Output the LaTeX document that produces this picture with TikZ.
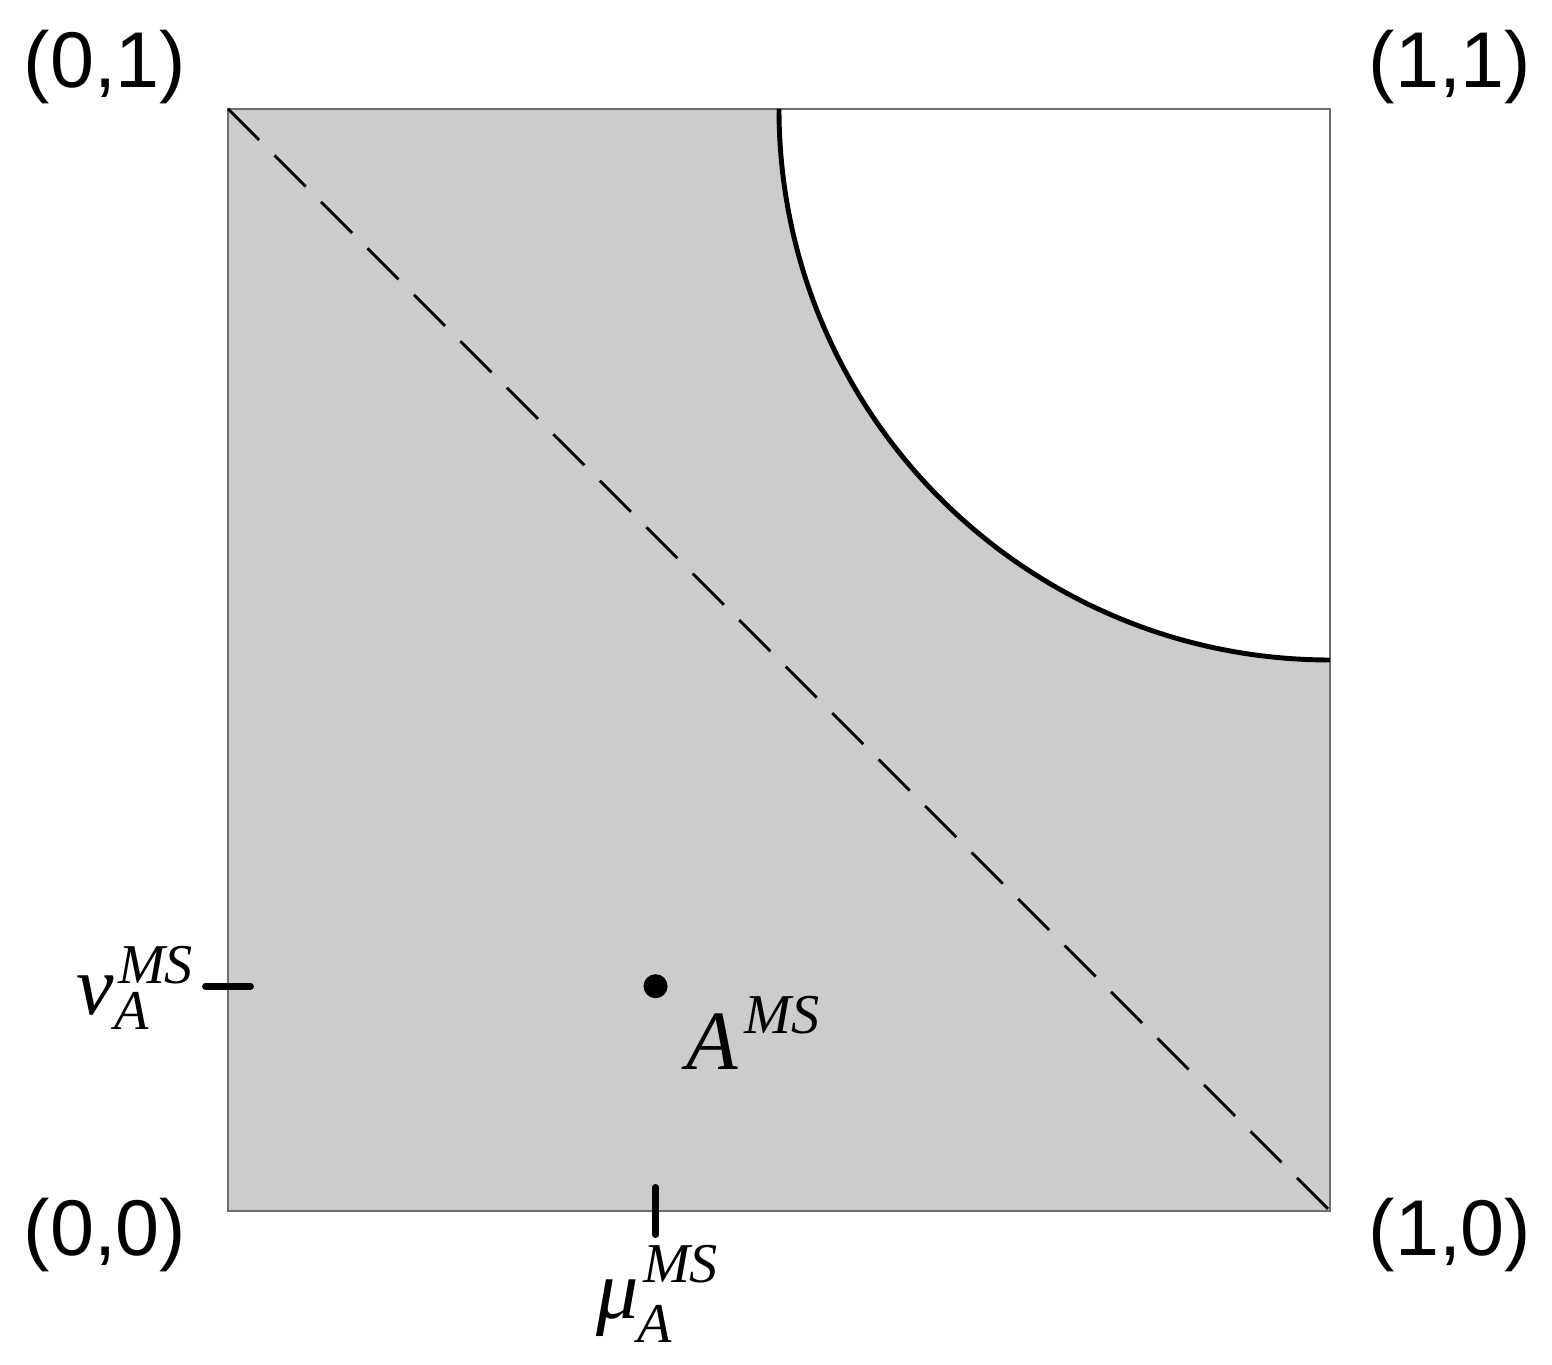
\documentclass[tikz,border=0pt]{standalone}
\usepackage{fontspec}
\setmainfont{Liberation Serif}
\newfontfamily\arialfont{Liberation Sans}
\definecolor{regiongray}{HTML}{CCCCCC}
\definecolor{framegray}{HTML}{6E6E6E}
\tikzset{
  corner/.style={font=\arialfont\fontsize{22.5}{22.5}\selectfont, inner sep=0pt},
  mathlab/.style={inner sep=0pt, anchor=base west},
  framebox/.style={draw=framegray, line width=0.6pt},
  boundary/.style={draw=black, line width=1.4pt},
  diag/.style={draw=black, line width=0.8pt, dash pattern=on 12.5pt off 6.2pt},
  tickmark/.style={draw=black, line width=1.9pt, line cap=round},
}
\newcommand{\bigit}{\itshape\fontsize{24}{24}\selectfont}
\newcommand{\smallit}[1]{{\itshape\fontsize{16}{16}\selectfont #1}}
\begin{document}
\begin{tikzpicture}
\useasboundingbox (0,0) rectangle (15.52,13.65);
\begin{scope}[shift={(2.28,1.54)}, x=11.02cm, y=11.02cm]
  \coordinate (O) at (0,0);
  \coordinate (X) at (1,0);
  \coordinate (Y) at (0,1);
  \coordinate (XY) at (1,1);
  \coordinate (arcS) at (1,0.5);
  \fill[regiongray] (O) -- (X) -- (arcS) arc[start angle=270, end angle=180, radius=5.51cm] -- (Y) -- cycle;
  \draw[framebox] (O) rectangle (XY);
  \draw[diag] (Y) -- (X);
  \draw[boundary] (arcS) arc[start angle=270, end angle=180, radius=5.51cm];
  \coordinate (pt) at (0.388,0.204);
  \fill[black] (pt) circle[radius=0.12cm];
  \coordinate (tlA) at (-0.0205,0.204);
  \coordinate (tlB) at (0.0205,0.204);
  \draw[tickmark] (tlA) -- (tlB);
  \coordinate (tbA) at (0.388,-0.0215);
  \coordinate (tbB) at (0.388,0.0215);
  \draw[tickmark] (tbA) -- (tbB);
\end{scope}
\node[corner] (c01) at (1.05,12.98) {(0,1)};
\node[corner] (c11) at (14.50,12.98) {(1,1)};
\node[corner] (c00) at (1.05,1.30) {(0,0)};
\node[corner] (c10) at (14.50,1.30) {(1,0)};
\node[mathlab] (AMS) at (6.86,2.95) {{\bigit A}\kern0.06cm\raisebox{0.36cm}{\smallit{MS}}};
\node[mathlab] (nuA) at (0.76,3.50) {{\bigit ν}\kern0.0cm\makebox[0pt][l]{\kern0.04cm\raisebox{0.31cm}{\smallit{MS}}}\raisebox{-0.15cm}{\smallit{A}}};
\node[mathlab] (muA) at (5.96,0.46) {{\bigit μ}\kern-0.02cm\makebox[0pt][l]{\kern0.06cm\raisebox{0.36cm}{\smallit{MS}}}\raisebox{-0.24cm}{\smallit{A}}};
\end{tikzpicture}
\end{document}
